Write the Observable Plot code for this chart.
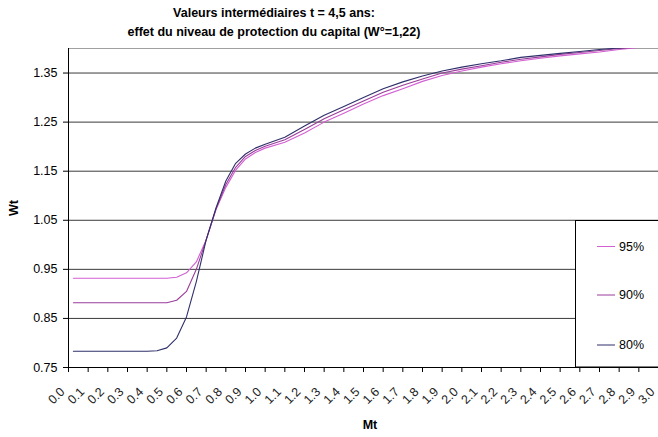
<!DOCTYPE html>
<html><head><meta charset="utf-8">
<script src="https://cdn.jsdelivr.net/npm/d3@7"></script>
<script src="https://cdn.jsdelivr.net/npm/@observablehq/plot@0.6"></script>
<style>
body{margin:0;background:#fff;}
svg{display:block;font-family:"Liberation Sans",Arial,sans-serif;}
</style>
</head><body><div id="chart"></div>
<script>
const titleLines = ["Valeurs intermédiaires t = 4,5 ans:", "effet du niveau de protection du capital (W°=1,22)"];
const xLabel = "Mt";
const yLabel = "Wt";
const mt = [0.025,0.1,0.2,0.3,0.4,0.45,0.5,0.55,0.6,0.65,0.7,0.75,0.8,0.85,0.9,0.95,1.0,
  1.1,1.2,1.3,1.4,1.5,1.6,1.7,1.8,1.9,2.0,2.1,2.2,2.3,2.4,2.5,2.6,2.7,2.8,2.9,3.0];
const w95 = [0.932,0.932,0.932,0.932,0.932,0.932,0.932,0.934,0.943,0.965,1.010,1.072,1.117,1.152,1.175,1.188,1.197,
  1.209,1.228,1.250,1.268,1.287,1.304,1.318,1.333,1.345,1.354,1.362,1.369,1.375,1.380,1.385,1.389,1.393,1.398,1.402,1.405];
const w90 = [0.882,0.882,0.882,0.882,0.882,0.882,0.882,0.887,0.905,0.950,1.010,1.073,1.123,1.158,1.180,1.192,1.201,
  1.214,1.235,1.257,1.275,1.293,1.311,1.325,1.338,1.350,1.358,1.365,1.372,1.378,1.383,1.388,1.392,1.396,1.400,1.403,1.406];
const w80 = [0.783,0.783,0.783,0.783,0.783,0.784,0.790,0.810,0.853,0.925,1.010,1.075,1.130,1.166,1.185,1.197,1.205,
  1.219,1.242,1.264,1.282,1.300,1.318,1.332,1.344,1.354,1.362,1.369,1.375,1.382,1.386,1.390,1.394,1.398,1.401,1.404,1.407];
const seriesNames = ["95%","90%","80%"];
const seriesColors = ["#d35fd3","#9a3d9a","#2f2f6b"];
const xTicks = d3.range(0,31).map(i => i/10);
const yTicks = [0.75,0.85,0.95,1.05,1.15,1.25,1.35];

const seriesValues = [w95, w90, w80];
const data = [];
seriesNames.forEach((s,k) => mt.forEach((m,i) => data.push({mt:m, wt:seriesValues[k][i], s})));

const W = 658, H = 437, mL = 68, mR = 0, mT = 48, mB = 70;
const plot = Plot.plot({
  width: W, height: H, marginLeft: mL, marginRight: mR, marginTop: mT, marginBottom: mB,
  style: {fontFamily: '"Liberation Sans", Arial, sans-serif', fontSize: "12px", color: "#000", background: "#fff"},
  x: {domain: [0, 3], axis: null, label: null},
  y: {domain: [0.75, 1.40], axis: null, label: null},
  color: {domain: seriesNames, range: seriesColors},
  marks: [
    Plot.gridY(yTicks.slice(1), {stroke: "#3a3a3a", strokeOpacity: 1}),
    Plot.ruleY([1.40], {stroke: "#a0a0a0"}),
    Plot.line(data, {x: "mt", y: "wt", z: "s", stroke: "s", strokeWidth: 1.1, clip: true}),
    Plot.axisY(yTicks, {tickSize: 5, tickPadding: 6, tickFormat: d => d.toFixed(2), fontSize: 12.5, label: null}),
    Plot.axisX(xTicks, {tickSize: 5, tickFormat: () => "", label: null}),
    Plot.text(xTicks, {x: d => d, frameAnchor: "bottom", text: d => d.toFixed(1), rotate: -45, textAnchor: "end", dx: -3, dy: 25, fontSize: 12.5, fill: "#222"}),
    Plot.ruleX([0], {stroke: "#000"}),
    Plot.ruleY([0.75], {stroke: "#000"})
  ]
});
document.getElementById("chart").appendChild(plot);

const svg = d3.select(plot);
// titles
svg.append("text").attr("x", 274).attr("y", 17).attr("text-anchor", "middle")
  .attr("font-weight", "bold").attr("font-size", 12.5).text(titleLines[0]);
svg.append("text").attr("x", 274).attr("y", 36).attr("text-anchor", "middle")
  .attr("font-weight", "bold").attr("font-size", 12.5).text(titleLines[1]);
// axis labels
svg.append("text").attr("transform", "translate(18,208) rotate(-90)").attr("text-anchor", "middle")
  .attr("font-weight", "bold").attr("font-size", 12.5).text(yLabel);
svg.append("text").attr("x", 370).attr("y", 429).attr("text-anchor", "middle")
  .attr("font-weight", "bold").attr("font-size", 12.5).text(xLabel);
// legend
const lg = svg.append("g");
lg.append("rect").attr("x", 575.5).attr("y", 220.5).attr("width", 100).attr("height", 146.5)
  .attr("fill", "#fff").attr("stroke", "#000");
const lgY = [246.5, 295, 345];
seriesNames.forEach((s,i) => {
  lg.append("line").attr("x1", 597).attr("x2", 615).attr("y1", lgY[i]).attr("y2", lgY[i])
    .attr("stroke", seriesColors[i]).attr("stroke-width", 1);
  lg.append("text").attr("x", 619).attr("y", lgY[i]).attr("dy", "0.35em").attr("text-anchor", "start")
    .attr("font-size", 12.5).text(s);
});
</script>
</body></html>
